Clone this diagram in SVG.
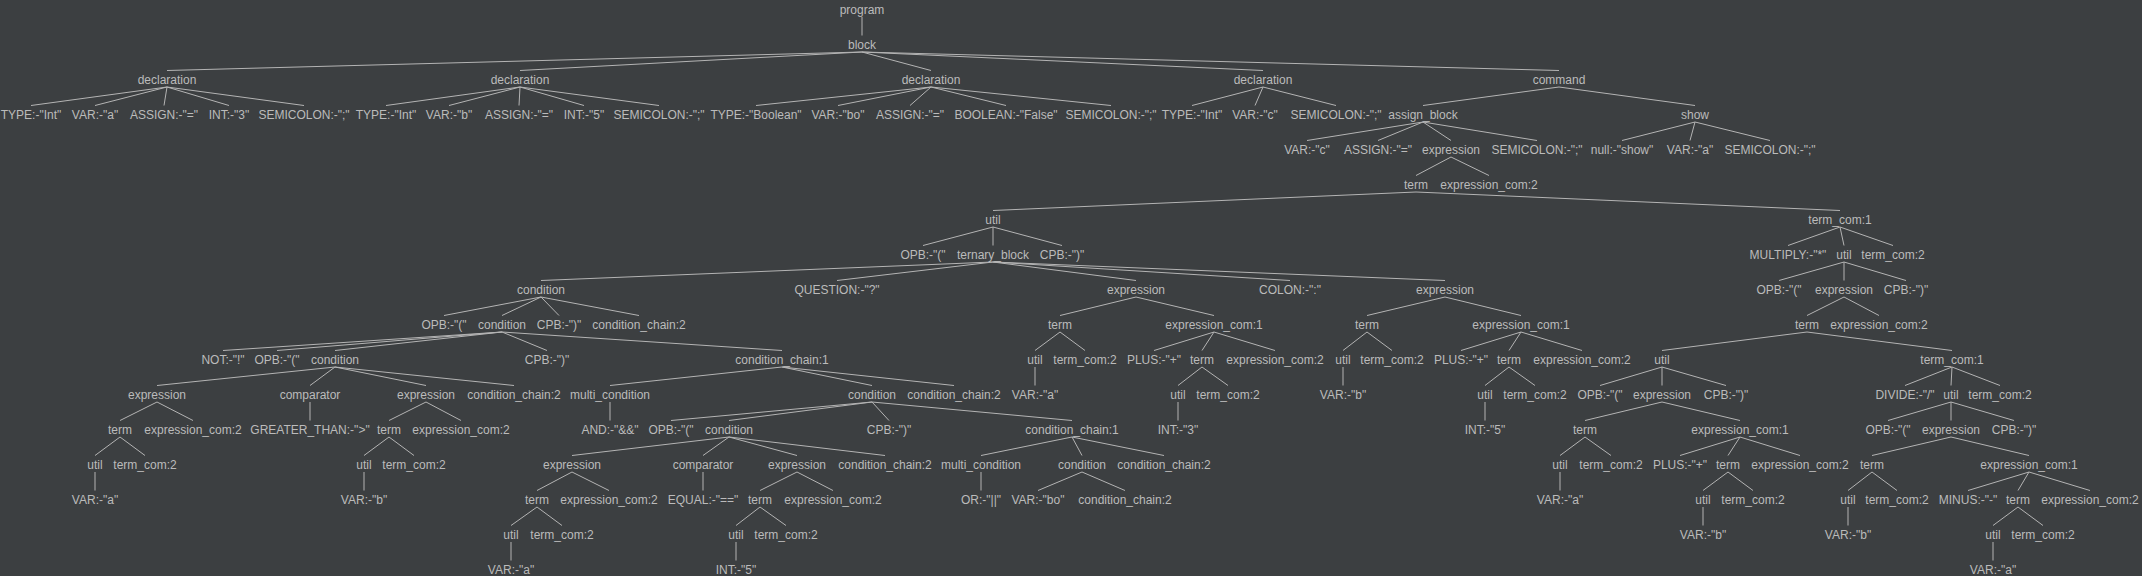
<svg xmlns="http://www.w3.org/2000/svg" width="2142" height="576" viewBox="0 0 2142 576">
<style>
text{font-family:"Liberation Sans",Arial,sans-serif;font-size:12px;fill:#bbbbbb;text-anchor:middle}
#edges line{stroke:#b4b4b4;stroke-width:1;fill:none}
</style>
<rect width="2142" height="576" fill="#3c3f41"/>
<g id="edges">
<line x1="862" y1="17" x2="862" y2="35.5"/>
<line x1="862" y1="52" x2="167" y2="70.5"/>
<line x1="862" y1="52" x2="520" y2="70.5"/>
<line x1="862" y1="52" x2="931" y2="70.5"/>
<line x1="862" y1="52" x2="1263" y2="70.5"/>
<line x1="862" y1="52" x2="1559" y2="70.5"/>
<line x1="167" y1="87" x2="31" y2="105.5"/>
<line x1="167" y1="87" x2="95" y2="105.5"/>
<line x1="167" y1="87" x2="164" y2="105.5"/>
<line x1="167" y1="87" x2="229" y2="105.5"/>
<line x1="167" y1="87" x2="304" y2="105.5"/>
<line x1="520" y1="87" x2="386" y2="105.5"/>
<line x1="520" y1="87" x2="449" y2="105.5"/>
<line x1="520" y1="87" x2="519" y2="105.5"/>
<line x1="520" y1="87" x2="584" y2="105.5"/>
<line x1="520" y1="87" x2="659" y2="105.5"/>
<line x1="931" y1="87" x2="756" y2="105.5"/>
<line x1="931" y1="87" x2="838" y2="105.5"/>
<line x1="931" y1="87" x2="910" y2="105.5"/>
<line x1="931" y1="87" x2="1006" y2="105.5"/>
<line x1="931" y1="87" x2="1111" y2="105.5"/>
<line x1="1263" y1="87" x2="1192" y2="105.5"/>
<line x1="1263" y1="87" x2="1255" y2="105.5"/>
<line x1="1263" y1="87" x2="1336" y2="105.5"/>
<line x1="1559" y1="87" x2="1423" y2="105.5"/>
<line x1="1559" y1="87" x2="1695" y2="105.5"/>
<line x1="1423" y1="122" x2="1307" y2="140.5"/>
<line x1="1423" y1="122" x2="1378" y2="140.5"/>
<line x1="1423" y1="122" x2="1451" y2="140.5"/>
<line x1="1423" y1="122" x2="1537" y2="140.5"/>
<line x1="1695" y1="122" x2="1622" y2="140.5"/>
<line x1="1695" y1="122" x2="1690" y2="140.5"/>
<line x1="1695" y1="122" x2="1770" y2="140.5"/>
<line x1="1451" y1="157" x2="1416" y2="175.5"/>
<line x1="1451" y1="157" x2="1489" y2="175.5"/>
<line x1="1416" y1="192" x2="993" y2="210.5"/>
<line x1="1416" y1="192" x2="1840" y2="210.5"/>
<line x1="993" y1="227" x2="923" y2="245.5"/>
<line x1="993" y1="227" x2="993" y2="245.5"/>
<line x1="993" y1="227" x2="1062" y2="245.5"/>
<line x1="1840" y1="227" x2="1788" y2="245.5"/>
<line x1="1840" y1="227" x2="1844" y2="245.5"/>
<line x1="1840" y1="227" x2="1893" y2="245.5"/>
<line x1="993" y1="262" x2="541" y2="280.5"/>
<line x1="993" y1="262" x2="837" y2="280.5"/>
<line x1="993" y1="262" x2="1136" y2="280.5"/>
<line x1="993" y1="262" x2="1290" y2="280.5"/>
<line x1="993" y1="262" x2="1445" y2="280.5"/>
<line x1="1844" y1="262" x2="1779" y2="280.5"/>
<line x1="1844" y1="262" x2="1844" y2="280.5"/>
<line x1="1844" y1="262" x2="1906" y2="280.5"/>
<line x1="541" y1="297" x2="444" y2="315.5"/>
<line x1="541" y1="297" x2="502" y2="315.5"/>
<line x1="541" y1="297" x2="559" y2="315.5"/>
<line x1="541" y1="297" x2="639" y2="315.5"/>
<line x1="1136" y1="297" x2="1060" y2="315.5"/>
<line x1="1136" y1="297" x2="1214" y2="315.5"/>
<line x1="1445" y1="297" x2="1367" y2="315.5"/>
<line x1="1445" y1="297" x2="1521" y2="315.5"/>
<line x1="1844" y1="297" x2="1807" y2="315.5"/>
<line x1="1844" y1="297" x2="1879" y2="315.5"/>
<line x1="502" y1="332" x2="223" y2="350.5"/>
<line x1="502" y1="332" x2="277" y2="350.5"/>
<line x1="502" y1="332" x2="335" y2="350.5"/>
<line x1="502" y1="332" x2="547" y2="350.5"/>
<line x1="502" y1="332" x2="782" y2="350.5"/>
<line x1="1060" y1="332" x2="1035" y2="350.5"/>
<line x1="1060" y1="332" x2="1085" y2="350.5"/>
<line x1="1214" y1="332" x2="1154" y2="350.5"/>
<line x1="1214" y1="332" x2="1202" y2="350.5"/>
<line x1="1214" y1="332" x2="1275" y2="350.5"/>
<line x1="1367" y1="332" x2="1343" y2="350.5"/>
<line x1="1367" y1="332" x2="1392" y2="350.5"/>
<line x1="1521" y1="332" x2="1461" y2="350.5"/>
<line x1="1521" y1="332" x2="1509" y2="350.5"/>
<line x1="1521" y1="332" x2="1582" y2="350.5"/>
<line x1="1807" y1="332" x2="1662" y2="350.5"/>
<line x1="1807" y1="332" x2="1952" y2="350.5"/>
<line x1="335" y1="367" x2="157" y2="385.5"/>
<line x1="335" y1="367" x2="310" y2="385.5"/>
<line x1="335" y1="367" x2="426" y2="385.5"/>
<line x1="335" y1="367" x2="514" y2="385.5"/>
<line x1="782" y1="367" x2="610" y2="385.5"/>
<line x1="782" y1="367" x2="872" y2="385.5"/>
<line x1="782" y1="367" x2="954" y2="385.5"/>
<line x1="1035" y1="367" x2="1035" y2="385.5"/>
<line x1="1202" y1="367" x2="1178" y2="385.5"/>
<line x1="1202" y1="367" x2="1228" y2="385.5"/>
<line x1="1343" y1="367" x2="1343" y2="385.5"/>
<line x1="1509" y1="367" x2="1485" y2="385.5"/>
<line x1="1509" y1="367" x2="1535" y2="385.5"/>
<line x1="1662" y1="367" x2="1600" y2="385.5"/>
<line x1="1662" y1="367" x2="1662" y2="385.5"/>
<line x1="1662" y1="367" x2="1726" y2="385.5"/>
<line x1="1952" y1="367" x2="1905" y2="385.5"/>
<line x1="1952" y1="367" x2="1951" y2="385.5"/>
<line x1="1952" y1="367" x2="2000" y2="385.5"/>
<line x1="157" y1="402" x2="120" y2="420.5"/>
<line x1="157" y1="402" x2="193" y2="420.5"/>
<line x1="310" y1="402" x2="310" y2="420.5"/>
<line x1="426" y1="402" x2="389" y2="420.5"/>
<line x1="426" y1="402" x2="461" y2="420.5"/>
<line x1="610" y1="402" x2="610" y2="420.5"/>
<line x1="872" y1="402" x2="671" y2="420.5"/>
<line x1="872" y1="402" x2="729" y2="420.5"/>
<line x1="872" y1="402" x2="889" y2="420.5"/>
<line x1="872" y1="402" x2="1072" y2="420.5"/>
<line x1="1178" y1="402" x2="1178" y2="420.5"/>
<line x1="1485" y1="402" x2="1485" y2="420.5"/>
<line x1="1662" y1="402" x2="1585" y2="420.5"/>
<line x1="1662" y1="402" x2="1740" y2="420.5"/>
<line x1="1951" y1="402" x2="1888" y2="420.5"/>
<line x1="1951" y1="402" x2="1951" y2="420.5"/>
<line x1="1951" y1="402" x2="2014" y2="420.5"/>
<line x1="120" y1="437" x2="95" y2="455.5"/>
<line x1="120" y1="437" x2="145" y2="455.5"/>
<line x1="389" y1="437" x2="364" y2="455.5"/>
<line x1="389" y1="437" x2="414" y2="455.5"/>
<line x1="729" y1="437" x2="572" y2="455.5"/>
<line x1="729" y1="437" x2="703" y2="455.5"/>
<line x1="729" y1="437" x2="797" y2="455.5"/>
<line x1="729" y1="437" x2="885" y2="455.5"/>
<line x1="1072" y1="437" x2="981" y2="455.5"/>
<line x1="1072" y1="437" x2="1082" y2="455.5"/>
<line x1="1072" y1="437" x2="1164" y2="455.5"/>
<line x1="1585" y1="437" x2="1560" y2="455.5"/>
<line x1="1585" y1="437" x2="1611" y2="455.5"/>
<line x1="1740" y1="437" x2="1680" y2="455.5"/>
<line x1="1740" y1="437" x2="1728" y2="455.5"/>
<line x1="1740" y1="437" x2="1800" y2="455.5"/>
<line x1="1951" y1="437" x2="1872" y2="455.5"/>
<line x1="1951" y1="437" x2="2029" y2="455.5"/>
<line x1="95" y1="472" x2="95" y2="490.5"/>
<line x1="364" y1="472" x2="364" y2="490.5"/>
<line x1="572" y1="472" x2="537" y2="490.5"/>
<line x1="572" y1="472" x2="609" y2="490.5"/>
<line x1="703" y1="472" x2="703" y2="490.5"/>
<line x1="797" y1="472" x2="760" y2="490.5"/>
<line x1="797" y1="472" x2="833" y2="490.5"/>
<line x1="981" y1="472" x2="981" y2="490.5"/>
<line x1="1082" y1="472" x2="1038" y2="490.5"/>
<line x1="1082" y1="472" x2="1125" y2="490.5"/>
<line x1="1560" y1="472" x2="1560" y2="490.5"/>
<line x1="1728" y1="472" x2="1703" y2="490.5"/>
<line x1="1728" y1="472" x2="1753" y2="490.5"/>
<line x1="1872" y1="472" x2="1848" y2="490.5"/>
<line x1="1872" y1="472" x2="1897" y2="490.5"/>
<line x1="2029" y1="472" x2="1968" y2="490.5"/>
<line x1="2029" y1="472" x2="2018" y2="490.5"/>
<line x1="2029" y1="472" x2="2090" y2="490.5"/>
<line x1="537" y1="507" x2="511" y2="525.5"/>
<line x1="537" y1="507" x2="562" y2="525.5"/>
<line x1="760" y1="507" x2="736" y2="525.5"/>
<line x1="760" y1="507" x2="786" y2="525.5"/>
<line x1="1703" y1="507" x2="1703" y2="525.5"/>
<line x1="1848" y1="507" x2="1848" y2="525.5"/>
<line x1="2018" y1="507" x2="1993" y2="525.5"/>
<line x1="2018" y1="507" x2="2043" y2="525.5"/>
<line x1="511" y1="542" x2="511" y2="560.5"/>
<line x1="736" y1="542" x2="736" y2="560.5"/>
<line x1="1993" y1="542" x2="1993" y2="560.5"/>
</g>
<g id="n0"><text x="862" y="14">program</text></g>
<g id="n1"><text x="862" y="49">block</text></g>
<g id="n2"><text x="167" y="84">declaration</text></g>
<g id="n3"><text x="520" y="84">declaration</text></g>
<g id="n4"><text x="931" y="84">declaration</text></g>
<g id="n5"><text x="1263" y="84">declaration</text></g>
<g id="n6"><text x="1559" y="84">command</text></g>
<g id="n7"><text x="31" y="119">TYPE:-"Int"</text></g>
<g id="n8"><text x="95" y="119">VAR:-"a"</text></g>
<g id="n9"><text x="164" y="119">ASSIGN:-"="</text></g>
<g id="n10"><text x="229" y="119">INT:-"3"</text></g>
<g id="n11"><text x="304" y="119">SEMICOLON:-";"</text></g>
<g id="n12"><text x="386" y="119">TYPE:-"Int"</text></g>
<g id="n13"><text x="449" y="119">VAR:-"b"</text></g>
<g id="n14"><text x="519" y="119">ASSIGN:-"="</text></g>
<g id="n15"><text x="584" y="119">INT:-"5"</text></g>
<g id="n16"><text x="659" y="119">SEMICOLON:-";"</text></g>
<g id="n17"><text x="756" y="119">TYPE:-"Boolean"</text></g>
<g id="n18"><text x="838" y="119">VAR:-"bo"</text></g>
<g id="n19"><text x="910" y="119">ASSIGN:-"="</text></g>
<g id="n20"><text x="1006" y="119">BOOLEAN:-"False"</text></g>
<g id="n21"><text x="1111" y="119">SEMICOLON:-";"</text></g>
<g id="n22"><text x="1192" y="119">TYPE:-"Int"</text></g>
<g id="n23"><text x="1255" y="119">VAR:-"c"</text></g>
<g id="n24"><text x="1336" y="119">SEMICOLON:-";"</text></g>
<g id="n25"><text x="1423" y="119">assign_block</text></g>
<g id="n26"><text x="1695" y="119">show</text></g>
<g id="n27"><text x="1307" y="154">VAR:-"c"</text></g>
<g id="n28"><text x="1378" y="154">ASSIGN:-"="</text></g>
<g id="n29"><text x="1451" y="154">expression</text></g>
<g id="n30"><text x="1537" y="154">SEMICOLON:-";"</text></g>
<g id="n31"><text x="1622" y="154">null:-"show"</text></g>
<g id="n32"><text x="1690" y="154">VAR:-"a"</text></g>
<g id="n33"><text x="1770" y="154">SEMICOLON:-";"</text></g>
<g id="n34"><text x="1416" y="189">term</text></g>
<g id="n35"><text x="1489" y="189">expression_com:2</text></g>
<g id="n36"><text x="993" y="224">util</text></g>
<g id="n37"><text x="1840" y="224">term_com:1</text></g>
<g id="n38"><text x="923" y="259">OPB:-"("</text></g>
<g id="n39"><text x="993" y="259">ternary_block</text></g>
<g id="n40"><text x="1062" y="259">CPB:-")"</text></g>
<g id="n41"><text x="1788" y="259">MULTIPLY:-"*"</text></g>
<g id="n42"><text x="1844" y="259">util</text></g>
<g id="n43"><text x="1893" y="259">term_com:2</text></g>
<g id="n44"><text x="541" y="294">condition</text></g>
<g id="n45"><text x="837" y="294">QUESTION:-"?"</text></g>
<g id="n46"><text x="1136" y="294">expression</text></g>
<g id="n47"><text x="1290" y="294">COLON:-":"</text></g>
<g id="n48"><text x="1445" y="294">expression</text></g>
<g id="n49"><text x="1779" y="294">OPB:-"("</text></g>
<g id="n50"><text x="1844" y="294">expression</text></g>
<g id="n51"><text x="1906" y="294">CPB:-")"</text></g>
<g id="n52"><text x="444" y="329">OPB:-"("</text></g>
<g id="n53"><text x="502" y="329">condition</text></g>
<g id="n54"><text x="559" y="329">CPB:-")"</text></g>
<g id="n55"><text x="639" y="329">condition_chain:2</text></g>
<g id="n56"><text x="1060" y="329">term</text></g>
<g id="n57"><text x="1214" y="329">expression_com:1</text></g>
<g id="n58"><text x="1367" y="329">term</text></g>
<g id="n59"><text x="1521" y="329">expression_com:1</text></g>
<g id="n60"><text x="1807" y="329">term</text></g>
<g id="n61"><text x="1879" y="329">expression_com:2</text></g>
<g id="n62"><text x="223" y="364">NOT:-"!"</text></g>
<g id="n63"><text x="277" y="364">OPB:-"("</text></g>
<g id="n64"><text x="335" y="364">condition</text></g>
<g id="n65"><text x="547" y="364">CPB:-")"</text></g>
<g id="n66"><text x="782" y="364">condition_chain:1</text></g>
<g id="n67"><text x="1035" y="364">util</text></g>
<g id="n68"><text x="1085" y="364">term_com:2</text></g>
<g id="n69"><text x="1154" y="364">PLUS:-"+"</text></g>
<g id="n70"><text x="1202" y="364">term</text></g>
<g id="n71"><text x="1275" y="364">expression_com:2</text></g>
<g id="n72"><text x="1343" y="364">util</text></g>
<g id="n73"><text x="1392" y="364">term_com:2</text></g>
<g id="n74"><text x="1461" y="364">PLUS:-"+"</text></g>
<g id="n75"><text x="1509" y="364">term</text></g>
<g id="n76"><text x="1582" y="364">expression_com:2</text></g>
<g id="n77"><text x="1662" y="364">util</text></g>
<g id="n78"><text x="1952" y="364">term_com:1</text></g>
<g id="n79"><text x="157" y="399">expression</text></g>
<g id="n80"><text x="310" y="399">comparator</text></g>
<g id="n81"><text x="426" y="399">expression</text></g>
<g id="n82"><text x="514" y="399">condition_chain:2</text></g>
<g id="n83"><text x="610" y="399">multi_condition</text></g>
<g id="n84"><text x="872" y="399">condition</text></g>
<g id="n85"><text x="954" y="399">condition_chain:2</text></g>
<g id="n86"><text x="1035" y="399">VAR:-"a"</text></g>
<g id="n87"><text x="1178" y="399">util</text></g>
<g id="n88"><text x="1228" y="399">term_com:2</text></g>
<g id="n89"><text x="1343" y="399">VAR:-"b"</text></g>
<g id="n90"><text x="1485" y="399">util</text></g>
<g id="n91"><text x="1535" y="399">term_com:2</text></g>
<g id="n92"><text x="1600" y="399">OPB:-"("</text></g>
<g id="n93"><text x="1662" y="399">expression</text></g>
<g id="n94"><text x="1726" y="399">CPB:-")"</text></g>
<g id="n95"><text x="1905" y="399">DIVIDE:-"/"</text></g>
<g id="n96"><text x="1951" y="399">util</text></g>
<g id="n97"><text x="2000" y="399">term_com:2</text></g>
<g id="n98"><text x="120" y="434">term</text></g>
<g id="n99"><text x="193" y="434">expression_com:2</text></g>
<g id="n100"><text x="310" y="434">GREATER_THAN:-"&gt;"</text></g>
<g id="n101"><text x="389" y="434">term</text></g>
<g id="n102"><text x="461" y="434">expression_com:2</text></g>
<g id="n103"><text x="610" y="434">AND:-"&amp;&amp;"</text></g>
<g id="n104"><text x="671" y="434">OPB:-"("</text></g>
<g id="n105"><text x="729" y="434">condition</text></g>
<g id="n106"><text x="889" y="434">CPB:-")"</text></g>
<g id="n107"><text x="1072" y="434">condition_chain:1</text></g>
<g id="n108"><text x="1178" y="434">INT:-"3"</text></g>
<g id="n109"><text x="1485" y="434">INT:-"5"</text></g>
<g id="n110"><text x="1585" y="434">term</text></g>
<g id="n111"><text x="1740" y="434">expression_com:1</text></g>
<g id="n112"><text x="1888" y="434">OPB:-"("</text></g>
<g id="n113"><text x="1951" y="434">expression</text></g>
<g id="n114"><text x="2014" y="434">CPB:-")"</text></g>
<g id="n115"><text x="95" y="469">util</text></g>
<g id="n116"><text x="145" y="469">term_com:2</text></g>
<g id="n117"><text x="364" y="469">util</text></g>
<g id="n118"><text x="414" y="469">term_com:2</text></g>
<g id="n119"><text x="572" y="469">expression</text></g>
<g id="n120"><text x="703" y="469">comparator</text></g>
<g id="n121"><text x="797" y="469">expression</text></g>
<g id="n122"><text x="885" y="469">condition_chain:2</text></g>
<g id="n123"><text x="981" y="469">multi_condition</text></g>
<g id="n124"><text x="1082" y="469">condition</text></g>
<g id="n125"><text x="1164" y="469">condition_chain:2</text></g>
<g id="n126"><text x="1560" y="469">util</text></g>
<g id="n127"><text x="1611" y="469">term_com:2</text></g>
<g id="n128"><text x="1680" y="469">PLUS:-"+"</text></g>
<g id="n129"><text x="1728" y="469">term</text></g>
<g id="n130"><text x="1800" y="469">expression_com:2</text></g>
<g id="n131"><text x="1872" y="469">term</text></g>
<g id="n132"><text x="2029" y="469">expression_com:1</text></g>
<g id="n133"><text x="95" y="504">VAR:-"a"</text></g>
<g id="n134"><text x="364" y="504">VAR:-"b"</text></g>
<g id="n135"><text x="537" y="504">term</text></g>
<g id="n136"><text x="609" y="504">expression_com:2</text></g>
<g id="n137"><text x="703" y="504">EQUAL:-"=="</text></g>
<g id="n138"><text x="760" y="504">term</text></g>
<g id="n139"><text x="833" y="504">expression_com:2</text></g>
<g id="n140"><text x="981" y="504">OR:-"||"</text></g>
<g id="n141"><text x="1038" y="504">VAR:-"bo"</text></g>
<g id="n142"><text x="1125" y="504">condition_chain:2</text></g>
<g id="n143"><text x="1560" y="504">VAR:-"a"</text></g>
<g id="n144"><text x="1703" y="504">util</text></g>
<g id="n145"><text x="1753" y="504">term_com:2</text></g>
<g id="n146"><text x="1848" y="504">util</text></g>
<g id="n147"><text x="1897" y="504">term_com:2</text></g>
<g id="n148"><text x="1968" y="504">MINUS:-"-"</text></g>
<g id="n149"><text x="2018" y="504">term</text></g>
<g id="n150"><text x="2090" y="504">expression_com:2</text></g>
<g id="n151"><text x="511" y="539">util</text></g>
<g id="n152"><text x="562" y="539">term_com:2</text></g>
<g id="n153"><text x="736" y="539">util</text></g>
<g id="n154"><text x="786" y="539">term_com:2</text></g>
<g id="n155"><text x="1703" y="539">VAR:-"b"</text></g>
<g id="n156"><text x="1848" y="539">VAR:-"b"</text></g>
<g id="n157"><text x="1993" y="539">util</text></g>
<g id="n158"><text x="2043" y="539">term_com:2</text></g>
<g id="n159"><text x="511" y="574">VAR:-"a"</text></g>
<g id="n160"><text x="736" y="574">INT:-"5"</text></g>
<g id="n161"><text x="1993" y="574">VAR:-"a"</text></g>
</svg>
